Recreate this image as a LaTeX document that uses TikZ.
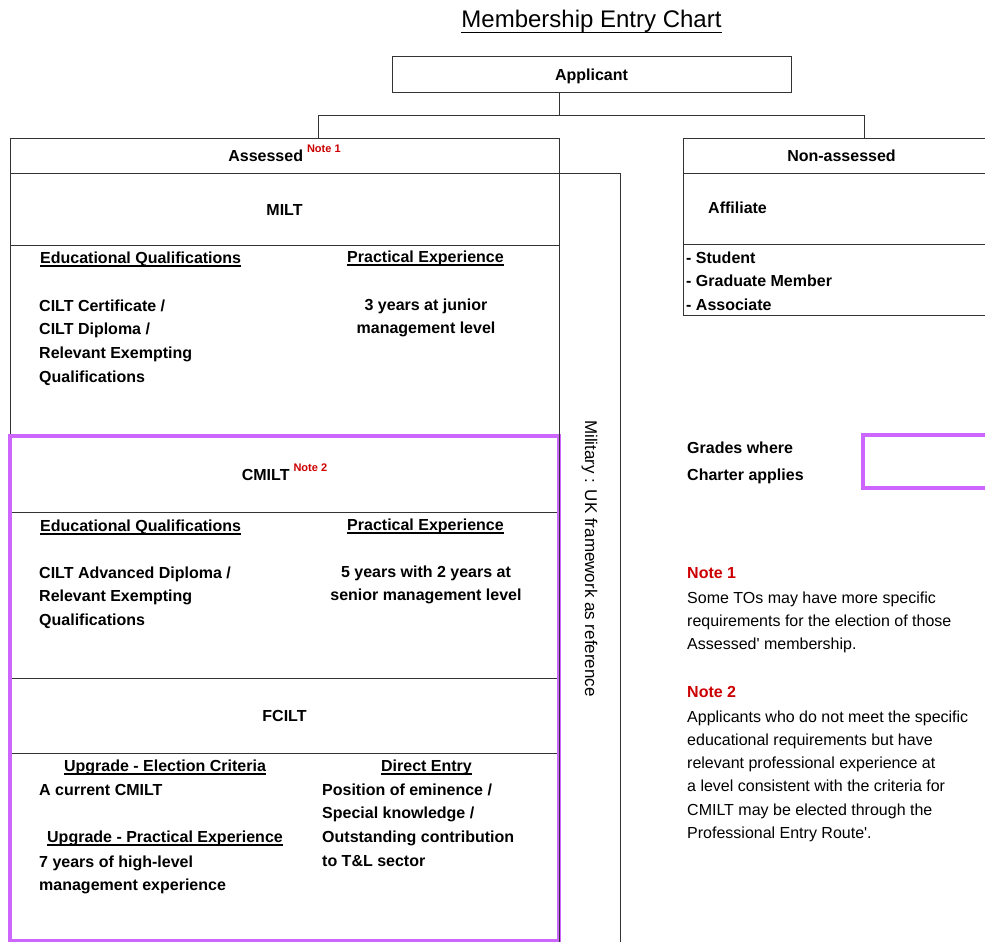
\documentclass[tikz,border=0pt]{standalone}
\usepackage{fontspec}
\setmainfont{Liberation Sans}
\usetikzlibrary{positioning}
\definecolor{charter}{RGB}{204,102,255}
\definecolor{notered}{RGB}{204,0,0}
\tikzstyle{box} = [draw=black!80, line width=1pt, inner sep=0pt, outer sep=0pt,
    anchor=north west, text height=12pt, text depth=0pt,
    font=\bfseries\fontsize{16}{16}\selectfont]
\tikzstyle{txt} = [anchor=base west, inner sep=0pt, align=left,
    font=\bfseries\fontsize{16}{23.7}\selectfont]
\tikzstyle{ctxt} = [txt, anchor=base, align=center]
\tikzstyle{remark} = [txt, font=\fontsize{16}{23.3}\selectfont]
\tikzstyle{conn} = [draw=black!80, line width=1pt]
\newcommand{\ulhead}[1]{\setbox0=\hbox{#1}\rlap{\rule[-0.225em]{\wd0}{0.075em}}\box0}
\newcommand{\notemark}[1]{\hspace{4pt}\raisebox{9pt}[0pt][0pt]{\fontsize{11}{11}\selectfont\color{notered}#1}}

\begin{document}
\begin{tikzpicture}[x=1pt, y=-1pt]
    \useasboundingbox (0,0) rectangle (985,942);
    % Title and applicant
    \node [anchor=base, inner sep=0pt, font=\fontsize{24}{24}\selectfont] (title) at (591.5,28) {\ulhead{Membership Entry Chart}};
    \node [box, minimum width=399, minimum height=35] (applicant) at (392,57) {Applicant};

    % Assessed column
    \node [box, minimum width=549, minimum height=35] (assessed) at (10,138) {Assessed\notemark{Note 1}};
    \node [box, minimum width=549, minimum height=72] (milt) at (assessed.south west) {MILT};
    \node [box, minimum width=549, minimum height=191] (miltdetail) at (milt.south west) {};
    \node [box, minimum width=549, minimum height=76] (cmilt) at (miltdetail.south west) {CMILT\notemark{Note 2}};
    \node [box, minimum width=549, minimum height=166] (cmiltdetail) at (cmilt.south west) {};
    \node [box, minimum width=549, minimum height=75] (fcilt) at (cmiltdetail.south west) {FCILT};
    \node [box, minimum width=549, minimum height=188] (fciltdetail) at (fcilt.south west) {};
    \draw [charter, line width=4pt] (cmilt.north west) rectangle (fciltdetail.south east);

    % Military
    \node [box, minimum width=61, minimum height=800] (military) at (milt.north east) {};
    \node [rotate=-90, inner sep=0pt, font=\fontsize{17}{17}\selectfont] (militarytext) at (589.5,558.5) {Military : UK framework as reference};

    % Non-assessed column
    \node [box, minimum width=317, minimum height=35] (nonassessed) at (683,138) {Non-assessed};
    \node [box, minimum width=317, minimum height=71] (affiliate) at (nonassessed.south west) {};
    \node [box, minimum width=317, minimum height=71] (gradelist) at (affiliate.south west) {};
    \node [box, draw=charter, line width=4pt, minimum width=140, minimum height=53] (charterkey) at (863,435) {};

    % Connectors
    \coordinate (split) at (559,115);
    \coordinate (leftdrop) at (318,115);
    \coordinate (rightdrop) at (864,115);
    \draw [conn] (applicant.south -| split) -- (split);
    \draw [conn] (leftdrop) -- (rightdrop);
    \draw [conn] (leftdrop) -- (leftdrop |- assessed.north);
    \draw [conn] (rightdrop) -- (rightdrop |- nonassessed.north);

    % MILT details (multi-line texts sit on their last line)
    \node [txt] (miltedu) at (40,263) {\ulhead{Educational Qualifications}};
    \node [ctxt] (miltprac) at (425.5,262) {\ulhead{Practical Experience}};
    \node [txt] (miltedutext) at (39,382.1) {CILT Certificate /\\CILT Diploma /\\Relevant Exempting\\Qualifications};
    \node [ctxt] (miltpractext) at (426,333.7) {3 years at junior\\management level};

    % CMILT details
    \node [txt] (cmiltedu) at (40,531) {\ulhead{Educational Qualifications}};
    \node [ctxt] (cmiltprac) at (425.5,530) {\ulhead{Practical Experience}};
    \node [txt] (cmiltedutext) at (39,625.4) {CILT Advanced Diploma /\\Relevant Exempting\\Qualifications};
    \node [ctxt] (cmiltpractext) at (426,600.7) {5 years with 2 years at\\senior management level};

    % FCILT details
    \node [ctxt] (upgradehead) at (165,771) {\ulhead{Upgrade - Election Criteria}};
    \node [ctxt] (directhead) at (426.5,771) {\ulhead{Direct Entry}};
    \node [txt] (upgradetext) at (39,795) {A current CMILT};
    \node [ctxt] (practhead) at (165,842) {\ulhead{Upgrade - Practical Experience}};
    \node [txt] (practtext) at (39,890.7) {7 years of high-level\\management experience};
    \node [txt] (directtext) at (322,866.1) {Position of eminence /\\Special knowledge /\\Outstanding contribution\\to T\&L sector};

    % Non-assessed details
    \node [txt] (affiliatetext) at (708,213) {Affiliate};
    \node [txt, font=\bfseries\fontsize{16}{23.5}\selectfont] (gradetext) at (686,310) {- Student\\- Graduate Member\\- Associate};

    % Key and notes
    \node [txt, font=\bfseries\fontsize{16}{27}\selectfont] (charternote) at (687,480) {Grades where\\Charter applies};
    \node [txt, text=notered] (noteonehead) at (687,578) {Note 1};
    \node [remark] (noteonetext) at (687,649.6) {Some TOs may have more specific\\requirements for the election of those\\Assessed\textquotesingle{} membership.};
    \node [txt, text=notered] (notetwohead) at (687,697) {Note 2};
    \node [remark] (notetwotext) at (687,838.5) {Applicants who do not meet the specific\\educational requirements but have\\relevant professional experience at\\a level consistent with the criteria for\\CMILT may be elected through the\\Professional Entry Route\textquotesingle.};
\end{tikzpicture}
\end{document}
